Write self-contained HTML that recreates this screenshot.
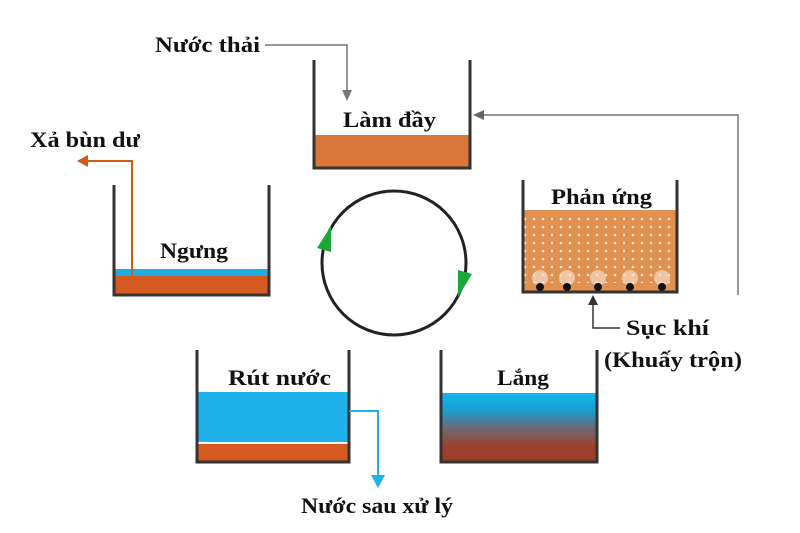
<!DOCTYPE html>
<html><head><meta charset="utf-8"><style>
html,body{margin:0;padding:0;background:#fff;}
svg{display:block}
text{font-family:"Liberation Serif",serif;font-weight:bold;fill:#111;}
</style></head><body>
<svg width="800" height="533" viewBox="0 0 800 533" xmlns="http://www.w3.org/2000/svg">
<defs>
<pattern id="dots" width="9" height="8" patternUnits="userSpaceOnUse">
<circle cx="3" cy="3" r="1.3" fill="#fbe9dc"/>
</pattern>
<linearGradient id="lg" x1="0" y1="0" x2="0" y2="1">
<stop offset="0" stop-color="#10b8ee"/>
<stop offset="0.25" stop-color="#1a9ed2"/>
<stop offset="0.5" stop-color="#6a6a78"/>
<stop offset="0.75" stop-color="#9a4430"/>
<stop offset="1" stop-color="#9a3c28"/>
</linearGradient>
</defs>

<!-- Làm đầy -->
<rect x="314" y="135" width="156" height="33" fill="#d9763a"/>
<polyline points="314,60 314,168 470,168 470,60" fill="none" stroke="#333" stroke-width="3"/>
<text x="343" y="127" font-size="22" textLength="93" lengthAdjust="spacingAndGlyphs">Làm đầy</text>
<text x="155" y="52" font-size="22" textLength="105" lengthAdjust="spacingAndGlyphs">Nước thải</text>
<polyline points="265,45 347,45 347,92" fill="none" stroke="#777" stroke-width="1.5"/>
<polygon points="342,90 352,90 347,101" fill="#777"/>

<!-- Ngưng -->
<rect x="114" y="269" width="155" height="7" fill="#20aee0"/>
<rect x="114" y="276" width="155" height="19" fill="#d65a20"/>
<polyline points="114,185 114,295 269,295 269,185" fill="none" stroke="#333" stroke-width="3"/>
<text x="160" y="258" font-size="22" textLength="68" lengthAdjust="spacingAndGlyphs">Ngưng</text>
<polyline points="132,280 132,161 86,161" fill="none" stroke="#d05a1a" stroke-width="2"/>
<polygon points="88,155 88,167 77,161" fill="#d05a1a"/>
<text x="30" y="147" font-size="22" textLength="110" lengthAdjust="spacingAndGlyphs">Xả bùn dư</text>

<!-- Phản ứng -->
<rect x="523" y="210" width="154" height="82" fill="#e0904f"/>
<rect x="523" y="213" width="154" height="70" fill="url(#dots)"/>
<g fill="#fbe9dc">
<circle cx="540" cy="278" r="8" opacity=".6"/><circle cx="567" cy="278" r="8" opacity=".6"/><circle cx="598" cy="278" r="8" opacity=".6"/><circle cx="630" cy="278" r="8" opacity=".6"/><circle cx="662" cy="278" r="8" opacity=".6"/>
</g>
<g fill="#111">
<circle cx="540" cy="287" r="4"/><circle cx="567" cy="287" r="4"/><circle cx="598" cy="287" r="4"/><circle cx="630" cy="287" r="4"/><circle cx="662" cy="287" r="4"/>
</g>
<polyline points="523,180 523,292 677,292 677,180" fill="none" stroke="#333" stroke-width="3"/>
<text x="551" y="204" font-size="22" textLength="101" lengthAdjust="spacingAndGlyphs">Phản ứng</text>
<polyline points="620,328 593,328 593,303" fill="none" stroke="#333" stroke-width="1.5"/>
<polygon points="588,305 598,305 593,295" fill="#333"/>
<text x="626" y="335" font-size="22" textLength="83" lengthAdjust="spacingAndGlyphs">Sục khí</text>
<text x="604" y="367" font-size="22" textLength="138" lengthAdjust="spacingAndGlyphs">(Khuấy trộn)</text>

<!-- return gray line -->
<polyline points="738,295 738,115 482,115" fill="none" stroke="#777" stroke-width="1.5"/>
<polygon points="484,110 484,120 473,115" fill="#666"/>

<!-- Circle -->
<circle cx="394" cy="263" r="72" fill="none" stroke="#222" stroke-width="3"/>
<polygon points="331,226 317,248 331,252" fill="#1aa838"/>
<polygon points="458,270 472,274 458,297" fill="#1aa838"/>

<!-- Rút nước -->
<rect x="197" y="392" width="152" height="50" fill="#1eb1ea"/>
<rect x="197" y="444" width="152" height="18" fill="#d65a20"/>
<polyline points="197,350 197,462 349,462 349,350" fill="none" stroke="#333" stroke-width="3"/>
<text x="228" y="385" font-size="22" textLength="103" lengthAdjust="spacingAndGlyphs">Rút nước</text>
<polyline points="349,411 378,411 378,477" fill="none" stroke="#1eb1ea" stroke-width="2"/>
<polygon points="371,475 385,475 378,488" fill="#1eb1ea"/>
<text x="301" y="513" font-size="22" textLength="152" lengthAdjust="spacingAndGlyphs">Nước sau xử lý</text>

<!-- Lắng -->
<rect x="441" y="393" width="156" height="69" fill="url(#lg)"/>
<polyline points="441,350 441,462 597,462 597,350" fill="none" stroke="#333" stroke-width="3"/>
<text x="497" y="385" font-size="22" textLength="52" lengthAdjust="spacingAndGlyphs">Lắng</text>
</svg>
</body></html>
